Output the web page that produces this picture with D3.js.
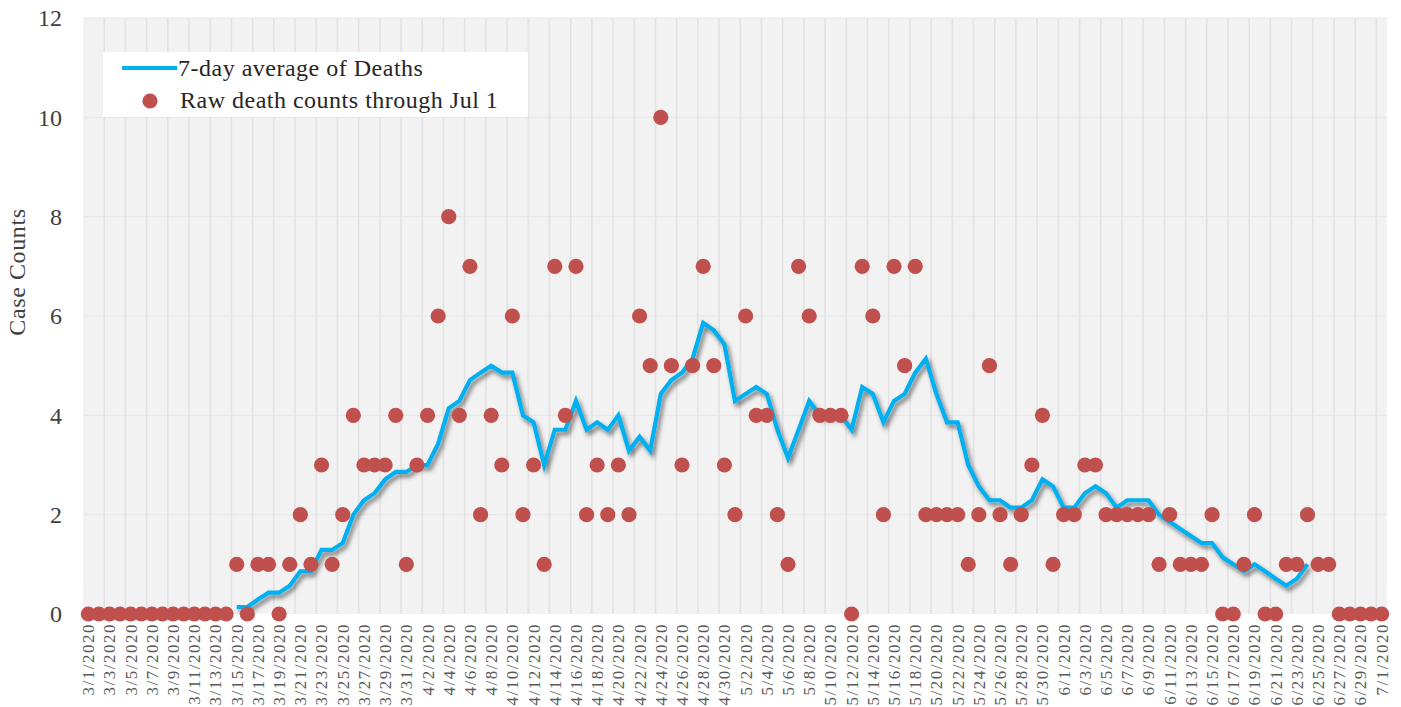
<!DOCTYPE html>
<html>
<head>
<meta charset="utf-8">
<script src="https://cdn.jsdelivr.net/npm/d3@7"></script>
<style>
  html, body { margin: 0; padding: 0; background: #ffffff; }
  svg { display: block; }
  text { font-family: "Liberation Serif", "Times New Roman", serif; }
</style>
</head>
<body>
<svg id="chart" width="1401" height="707"></svg>
<script>
// ---- Data ----
// Categories: daily dates 3/1/2020 .. 7/1/2020
const dates = d3.timeDay.range(new Date(2020, 2, 1), new Date(2020, 6, 2))
  .map(d3.timeFormat("%-m/%-d/%Y"));

// Raw daily death counts (one per date)
const rawDeaths = [
  0,0,0,0,0,0,0,0,0,0,0,0,0,0,
  1,0,1,1,0,1,2,
  1,3,1,2,4,3,3,
  3,4,1,3,4,6,8,
  4,7,2,4,3,6,2,
  3,1,7,4,7,2,3,
  2,3,2,6,5,10,5,
  3,5,7,5,3,2,6,
  4,4,2,1,7,6,4,
  4,4,0,7,6,2,7,
  5,7,2,2,2,2,1,
  2,5,2,1,2,3,4,
  1,2,2,3,3,2,2,
  2,2,2,1,2,1,1,
  1,2,0,0,1,2,0,
  0,1,1,2,1,1,0,
  0,0,0,0
];

// 7-day average series, starting at 3/15/2020 (index 14), ending 6/24/2020
const avgStart = 14;
const avgDeaths = [
  0.14,0.14,0.29,0.43,0.43,0.57,0.86,0.86,1.29,1.29,1.43,2.00,2.29,2.43,
  2.71,2.86,2.86,3.00,3.00,3.43,4.14,4.29,4.71,4.86,5.00,4.86,4.86,4.00,
  3.86,3.00,3.71,3.71,4.29,3.71,3.86,3.71,4.00,3.29,3.57,3.29,4.43,4.71,
  4.86,5.14,5.86,5.71,5.43,4.29,4.43,4.57,4.43,3.71,3.14,3.71,4.29,4.00,
  4.00,4.00,3.71,4.57,4.43,3.86,4.29,4.43,4.86,5.14,4.43,3.86,3.86,3.00,
  2.57,2.29,2.29,2.14,2.14,2.29,2.71,2.57,2.14,2.14,2.43,2.57,2.43,2.14,
  2.29,2.29,2.29,2.00,1.86,1.71,1.57,1.43,1.43,1.14,1.00,0.86,1.00,0.86,
  0.71,0.57,0.71,1.00
];

const yTicks = [0, 2, 4, 6, 8, 10, 12];
const seriesNames = ["7-day average of Deaths", "Raw death counts through Jul 1"];
const yTitle = "Case Counts";

// ---- Layout ----
const svg = d3.select("#chart");
const pL = 83, pR = 1387, pT = 18, pB = 614;

const x = d3.scaleBand().domain(dates).range([pL, pR]).padding(0);
const y = d3.scaleLinear().domain([0, 12]).range([pB, pT]);
const cx = d => x(d) + x.bandwidth() / 2;

// defs: shadow for line
const defs = svg.append("defs");
const f = defs.append("filter").attr("id", "shadow")
  .attr("x", "-5%").attr("y", "-5%").attr("width", "110%").attr("height", "120%");
f.append("feDropShadow").attr("dx", 2.5).attr("dy", 3.5).attr("stdDeviation", 2)
  .attr("flood-color", "#000").attr("flood-opacity", 0.5);

// plot background
svg.append("rect").attr("x", pL).attr("y", pT)
  .attr("width", pR - pL).attr("height", pB - pT)
  .attr("fill", "#f2f2f2");

// horizontal gridlines
svg.append("g").selectAll("line").data(yTicks.filter(t => t > 0)).join("line")
  .attr("x1", pL).attr("x2", pR)
  .attr("y1", d => y(d)).attr("y2", d => y(d))
  .attr("stroke", "#e6e6e6").attr("stroke-width", 1);

// vertical gridlines every two categories (at band edges)
const vIdx = d3.range(2, dates.length, 2);
svg.append("g").selectAll("line").data(vIdx).join("line")
  .attr("x1", i => x(dates[i])).attr("x2", i => x(dates[i]))
  .attr("y1", pT).attr("y2", pB)
  .attr("stroke", "#e2e2e2").attr("stroke-width", 1.6);

// y axis labels
const yAxis = d3.axisLeft(y).tickValues(yTicks).tickSize(0).tickPadding(0);
const gy = svg.append("g").attr("transform", `translate(${pL - 21},0)`).call(yAxis);
gy.select(".domain").remove();
gy.selectAll("text").attr("font-size", 24).attr("fill", "#404040")
  .attr("font-family", "Liberation Serif, serif");

// x axis labels (every other day)
const xAxis = d3.axisBottom(x).tickValues(dates.filter((d, i) => i % 2 === 0))
  .tickSize(0).tickPadding(0);
const gx = svg.append("g").attr("transform", `translate(0,${pB + 9})`).call(xAxis);
gx.select(".domain").remove();
gx.selectAll("text")
  .attr("font-size", 17).attr("fill", "#595959")
  .attr("font-family", "Liberation Serif, serif")
  .attr("letter-spacing", 1.5)
  .attr("text-anchor", "end")
  .attr("dy", "0.35em")
  .attr("transform", "rotate(-90)")
  .attr("x", 0).attr("y", 0);
gx.selectAll(".tick").attr("transform", d => `translate(${cx(d)},${0})`);

// y title
svg.append("text")
  .attr("transform", `translate(25,272) rotate(-90)`)
  .attr("text-anchor", "middle")
  .attr("font-size", 24).attr("letter-spacing", 0.6).attr("fill", "#404040")
  .text(yTitle);

// 7-day average line
const avgPts = avgDeaths.map((v, i) => ({ d: dates[avgStart + i], v }));
const line = d3.line().x(p => cx(p.d)).y(p => y(p.v));
svg.append("path").datum(avgPts)
  .attr("d", line)
  .attr("fill", "none")
  .attr("stroke", "#00b0f0")
  .attr("stroke-width", 4.2)
  .attr("stroke-linejoin", "miter")
  .attr("filter", "url(#shadow)");

// raw dots
svg.append("g").selectAll("circle").data(rawDeaths.map((v, i) => ({ d: dates[i], v })))
  .join("circle")
  .attr("cx", p => cx(p.d)).attr("cy", p => y(p.v))
  .attr("r", 7.6)
  .attr("fill", "#c0504d");

// legend
const lg = svg.append("g");
lg.append("rect").attr("x", 103).attr("y", 52).attr("width", 425).attr("height", 65)
  .attr("fill", "#ffffff");
lg.append("line").attr("x1", 122).attr("x2", 177).attr("y1", 68).attr("y2", 68)
  .attr("stroke", "#00b0f0").attr("stroke-width", 4.2);
lg.append("circle").attr("cx", 150).attr("cy", 101).attr("r", 7.6).attr("fill", "#c0504d");
lg.append("text").attr("x", 178).attr("y", 76).attr("font-size", 24)
  .attr("letter-spacing", 0.5).attr("fill", "#262626")
  .text(seriesNames[0]);
lg.append("text").attr("x", 180).attr("y", 108).attr("font-size", 24)
  .attr("letter-spacing", 0.5).attr("fill", "#262626")
  .text(seriesNames[1]);
</script>
</body>
</html>
